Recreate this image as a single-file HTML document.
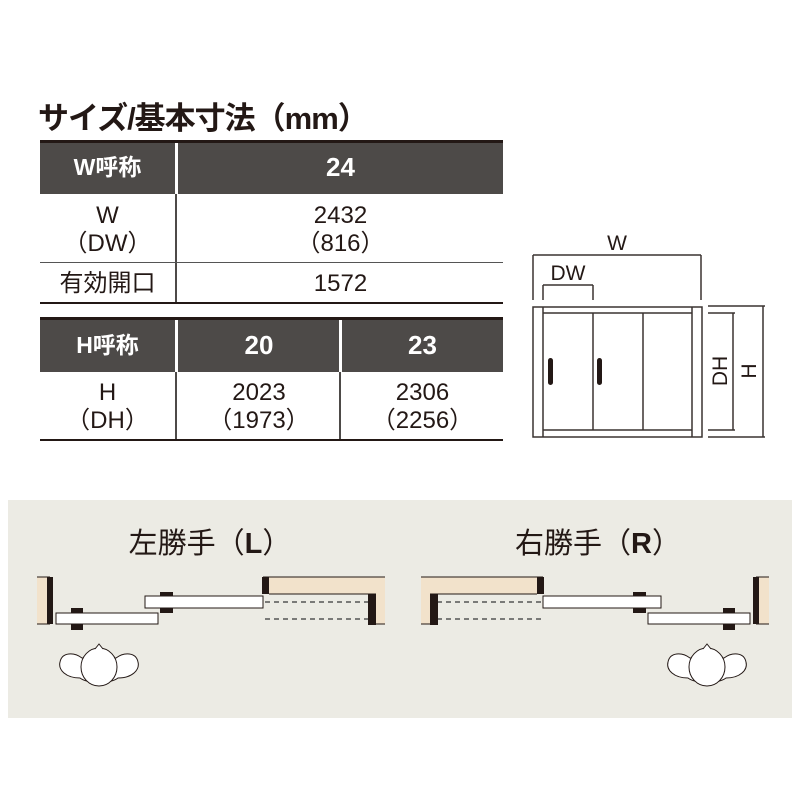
<!DOCTYPE html>
<html><head><meta charset="utf-8"><style>
body{margin:0;width:800px;height:800px;background:#fff;position:relative;overflow:hidden;font-family:"Liberation Sans","Noto Sans CJK JP",sans-serif;color:#231815}
.a{position:absolute}
.t{position:absolute;text-align:center;font-size:24px;line-height:28px}
.h{background:#4d4a48;color:#fff;font-weight:bold;font-size:25px}
</style></head><body>
<div class="a" style="left:38px;top:93px;font-size:31px;font-weight:bold;letter-spacing:-1px;white-space:nowrap">サイズ/基本寸法（mm）</div>

<div class="a h" style="left:40px;top:140px;width:463px;height:54px;border-top:3px solid #231815;box-sizing:border-box"></div>
<div class="a" style="left:175px;top:143px;width:3px;height:51px;background:#fff"></div>
<div class="t" style="left:40px;top:153px;width:135px;color:#fff;font-weight:bold;font-size:23px">W呼称</div>
<div class="t" style="left:178px;top:153px;width:325px;color:#fff;font-weight:bold;font-size:26px">24</div>
<div class="a" style="left:175px;top:194px;width:2px;height:110px;background:#4d4a48"></div>
<div class="t" style="left:40px;top:202px;width:135px">W<br>（DW）</div>
<div class="t" style="left:178px;top:202px;width:325px">2432<br>（816）</div>
<div class="a" style="left:40px;top:262px;width:463px;height:1px;background:#555"></div>
<div class="t" style="left:40px;top:270px;width:135px">有効開口</div>
<div class="t" style="left:178px;top:270px;width:325px">1572</div>
<div class="a" style="left:40px;top:302px;width:463px;height:2px;background:#231815"></div>

<div class="a h" style="left:40px;top:317px;width:463px;height:55px;border-top:3px solid #231815;box-sizing:border-box"></div>
<div class="a" style="left:339px;top:320px;width:3px;height:52px;background:#fff"></div>
<div class="a" style="left:175px;top:320px;width:3px;height:52px;background:#fff"></div>
<div class="t" style="left:40px;top:331px;width:135px;color:#fff;font-weight:bold;font-size:23px">H呼称</div>
<div class="t" style="left:178px;top:331px;width:162px;color:#fff;font-weight:bold;font-size:26px">20</div>
<div class="t" style="left:342px;top:331px;width:161px;color:#fff;font-weight:bold;font-size:26px">23</div>
<div class="a" style="left:175px;top:372px;width:2px;height:68px;background:#4d4a48"></div>
<div class="a" style="left:339px;top:372px;width:2px;height:68px;background:#4d4a48"></div>
<div class="t" style="left:40px;top:379px;width:135px">H<br>（DH）</div>
<div class="t" style="left:178px;top:379px;width:162px">2023<br>（1973）</div>
<div class="t" style="left:342px;top:379px;width:161px">2306<br>（2256）</div>
<div class="a" style="left:40px;top:439px;width:463px;height:2px;background:#231815"></div>

<svg class="a" style="left:0;top:0" width="800" height="800">
<g stroke="#3a3330" fill="none" stroke-width="1.5">
<rect x="533" y="307" width="169" height="130"/>
<line x1="543" y1="307" x2="543" y2="437"/><line x1="692" y1="307" x2="692" y2="437"/>
<line x1="543" y1="313" x2="692" y2="313"/><line x1="543" y1="430" x2="692" y2="430"/>
<line x1="593" y1="313" x2="593" y2="430"/><line x1="643" y1="313" x2="643" y2="430"/>
<line x1="533" y1="255" x2="701" y2="255"/><line x1="533" y1="255" x2="533" y2="300"/><line x1="701" y1="255" x2="701" y2="300"/>
<line x1="543" y1="285" x2="593" y2="285"/><line x1="543" y1="285" x2="543" y2="300"/><line x1="593" y1="285" x2="593" y2="300"/>
<line x1="708" y1="313" x2="735" y2="313"/><line x1="708" y1="430" x2="735" y2="430"/><line x1="733" y1="313" x2="733" y2="430"/>
<line x1="708" y1="306" x2="765" y2="306"/><line x1="708" y1="437" x2="765" y2="437"/><line x1="763" y1="306" x2="763" y2="437"/>
</g>
<rect x="548" y="358" width="5" height="27" rx="2.5" fill="#231815"/>
<rect x="597" y="358" width="5" height="27" rx="2.5" fill="#231815"/>
<g fill="#231815" font-size="21" font-family="Liberation Sans,sans-serif">
<text x="617" y="250" text-anchor="middle">W</text>
<text x="568" y="280" text-anchor="middle">DW</text>
<text transform="translate(727,371) rotate(-90)" text-anchor="middle">DH</text>
<text transform="translate(756,371) rotate(-90)" text-anchor="middle">H</text>
</g>
<rect x="8" y="500" width="784" height="218" fill="#ecebe4"/>
<g font-size="29" fill="#231815" font-family="Liberation Sans,Noto Sans CJK JP,sans-serif" text-anchor="middle">
<text x="210" y="553">左勝手（<tspan font-weight="bold">L</tspan>）</text>
<text x="598" y="553">右勝手（<tspan font-weight="bold">R</tspan>）</text>
</g>
<defs><g id="plan">
<rect x="37" y="577" width="13" height="47" fill="#f2e2cb"/>
<line x1="37" y1="577" x2="50" y2="577" stroke="#231815"/><line x1="37" y1="624" x2="50" y2="624" stroke="#231815"/>
<rect x="47" y="577" width="6" height="47" fill="#231815"/>
<rect x="71" y="608" width="12" height="22" fill="#231815"/>
<rect x="56" y="613" width="102" height="11" fill="#fff" stroke="#231815"/>
<rect x="160" y="592" width="13" height="21" fill="#231815"/>
<rect x="145" y="596" width="118" height="12" fill="#fff" stroke="#231815"/>
<path d="M263 577H385V624H376V594H269V577Z" fill="#f2e2cb"/>
<line x1="263" y1="577" x2="385" y2="577" stroke="#231815"/>
<line x1="269" y1="594" x2="376" y2="594" stroke="#231815"/>
<line x1="376" y1="624" x2="385" y2="624" stroke="#231815"/>
<rect x="262" y="577" width="7" height="17" fill="#231815"/>
<rect x="368" y="594" width="8" height="31" fill="#231815"/>
<g stroke="#555" stroke-dasharray="5,4" stroke-width="1.5"><line x1="265" y1="602" x2="368" y2="602"/><line x1="265" y1="619" x2="368" y2="619"/></g>
<path d="M82 658C74 652 62 652 60 662C58 670 66 678 80 678C88 684 110 684 118 678C132 678 140 670 138 662C136 652 124 652 116 658Z" fill="#fff" stroke="#231815"/>
<ellipse cx="99" cy="667" rx="18" ry="19" fill="#fff" stroke="#231815"/>
<path d="M95 649L99 644L103 649" fill="#fff" stroke="#231815"/>
</g></defs>
<use href="#plan"/>
<use href="#plan" transform="translate(806,0) scale(-1,1)"/>
</svg>
</body></html>
